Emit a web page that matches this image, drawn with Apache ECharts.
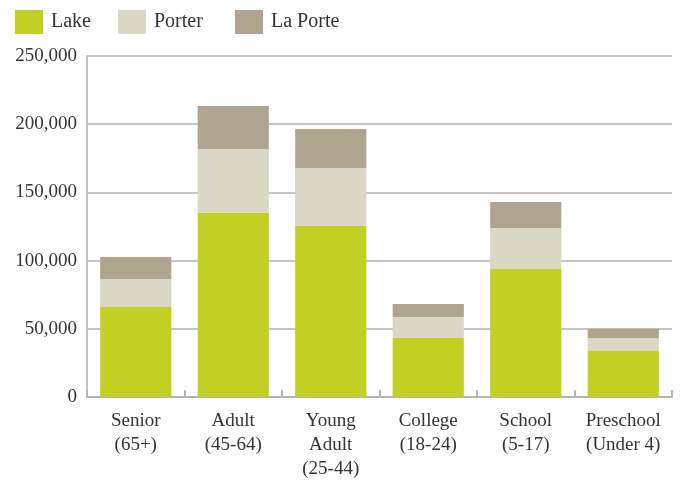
<!DOCTYPE html>
<html>
<head>
<meta charset="utf-8">
<script src="https://cdn.jsdelivr.net/npm/echarts@6/dist/echarts.min.js"></script>
<style>
  html, body { margin: 0; padding: 0; background: #fff; }
  #chart { width: 691px; height: 483px; }
</style>
</head>
<body>
<div id="chart"></div>
<script>
// categories along the bottom
var categories = ['Senior\n(65+)', 'Adult\n(45-64)', 'Young\nAdult\n(25-44)', 'College\n(18-24)', 'School\n(5-17)', 'Preschool\n(Under 4)'];
// stacked segment values
var lake = [66000, 135000, 125300, 43200, 93800, 33700];
var porter = [20500, 46800, 42600, 15400, 30100, 9500];
var laPorte = [16100, 31500, 28500, 9600, 19000, 6900];
var seriesNames = ['Lake', 'Porter', 'La Porte'];

var font = 'Liberation Serif';
var chart = echarts.init(document.getElementById('chart'), null, { renderer: 'canvas' });

function bar(name, data, color) {
    return {
        name: name,
        type: 'bar',
        stack: 'total',
        barWidth: '73%',
        itemStyle: { color: color },
        data: data
    };
}

// one legend per entry so each sits where it does in the picture
var legendLeft = [10, 113, 230];
var legends = seriesNames.map(function (n, i) {
    return {
        left: legendLeft[i],
        top: 5,
        itemWidth: 28,
        itemHeight: 24,
        icon: 'rect',
        textStyle: { fontSize: 20, color: '#333', fontFamily: font, padding: [0, 0, 0, 3] },
        data: [n]
    };
});

chart.setOption({
    animation: false,
    textStyle: { fontFamily: font },
    legend: legends,
    grid: { left: 87, right: 19, top: 56, bottom: 86 },
    xAxis: {
        type: 'category',
        data: categories,
        axisLine: { lineStyle: { color: '#b4b4b8', width: 2 } },
        axisTick: { show: true, inside: true, length: 7, lineStyle: { color: '#b4b4b8', width: 2 } },
        axisLabel: { fontSize: 19, color: '#333', lineHeight: 24, margin: 12, interval: 0, fontFamily: font }
    },
    yAxis: {
        type: 'value',
        min: 0,
        max: 250000,
        interval: 50000,
        axisLine: { show: true, lineStyle: { color: '#c4c4c8', width: 2 } },
        axisTick: { show: false },
        splitLine: { lineStyle: { color: '#b0b0b4', width: 1.5 } },
        axisLabel: {
            fontSize: 19,
            color: '#333',
            margin: 10,
            fontFamily: font,
            formatter: function (v) { return v.toLocaleString('en-US'); }
        }
    },
    series: [
        bar('Lake', lake, '#c2cf23'),
        bar('Porter', porter, '#dad7c5'),
        bar('La Porte', laPorte, '#afa48d')
    ]
});
</script>
</body>
</html>
